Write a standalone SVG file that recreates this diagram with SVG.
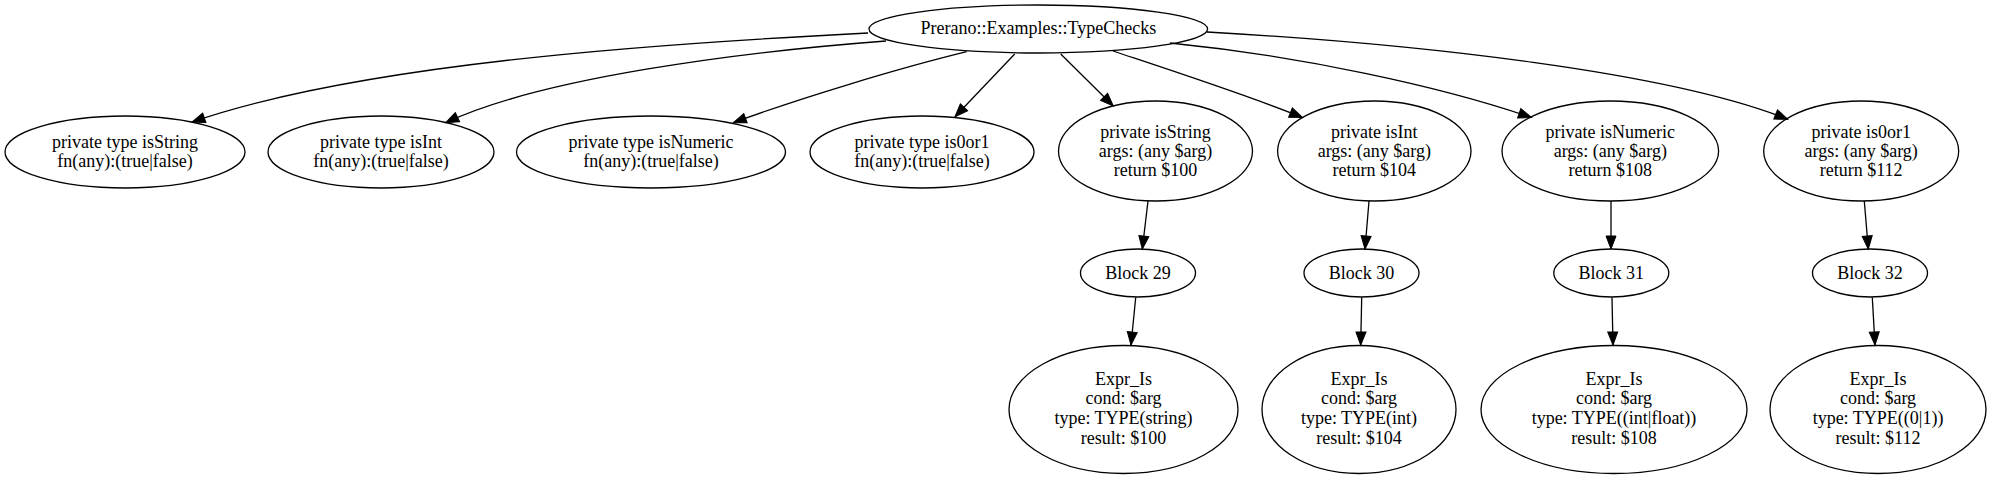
<svg xmlns="http://www.w3.org/2000/svg" width="1996" height="479" viewBox="0 0 1996 479">
<style>
.n ellipse{fill:none;stroke:#000;stroke-width:1.3}
.n text{font-family:"Liberation Serif","Times New Roman",serif;font-size:18px;fill:#000;text-anchor:middle}
.e path{fill:none;stroke:#000;stroke-width:1.3;marker-end:url(#arr)}
</style>
<defs>
<marker id="arr" markerUnits="userSpaceOnUse" viewBox="0 0 14 11" markerWidth="14" markerHeight="11" refX="13" refY="5.5" orient="auto" overflow="visible">
<path d="M0,0.5 L13,5.5 L0,10.5 Z" fill="#000" stroke="#000" stroke-width="1"/>
</marker>
</defs>
<rect width="1996" height="479" fill="#fff"/>
<g id="edges" class="e">
<path d="M868,33 C650,44 360,64 192,122"/>
<path d="M886,41 C740,52 540,78 445.7,122.7"/>
<path d="M966.7,51.7 C900,68 800,98 733.3,122.7"/>
<path d="M1014.7,54 L955,116.7"/>
<path d="M1060.7,54 L1113.3,106"/>
<path d="M1113,51 C1170,70 1250,96 1302.5,117.5"/>
<path d="M1170,43 C1300,56 1440,86 1531.5,117.5"/>
<path d="M1207,32 C1420,44 1670,72 1787.7,119.3"/>
<path d="M1148,201 L1142.3,249"/>
<path d="M1369,201 L1365,249"/>
<path d="M1611,201 L1611,249"/>
<path d="M1864.3,201 L1868.3,249"/>
<path d="M1135.7,297.5 L1131,345"/>
<path d="M1361.7,297.5 L1360.7,345"/>
<path d="M1612,297.5 L1613,345"/>
<path d="M1872.3,297.5 L1875,345"/>
</g>
<g id="root" class="n"><ellipse cx="1038.3" cy="29" rx="169.3" ry="24"/><text x="1038.3" y="34">Prerano::Examples::TypeChecks</text></g>
<g id="type_isString" class="n"><ellipse cx="125" cy="152" rx="120" ry="36"/><text x="125" y="148">private type isString</text><text x="125" y="167">fn(any):(true|false)</text></g>
<g id="type_isInt" class="n"><ellipse cx="381" cy="152" rx="113" ry="36"/><text x="381" y="148">private type isInt</text><text x="381" y="167">fn(any):(true|false)</text></g>
<g id="type_isNumeric" class="n"><ellipse cx="651" cy="152" rx="134.5" ry="36"/><text x="651" y="148">private type isNumeric</text><text x="651" y="167">fn(any):(true|false)</text></g>
<g id="type_is0or1" class="n"><ellipse cx="922" cy="152" rx="112" ry="36"/><text x="922" y="148">private type is0or1</text><text x="922" y="167">fn(any):(true|false)</text></g>
<g id="fn_isString" class="n"><ellipse cx="1155.5" cy="151" rx="97" ry="50"/><text x="1155.5" y="137.5">private isString</text><text x="1155.5" y="156.7">args: (any $arg)</text><text x="1155.5" y="176">return $100</text></g>
<g id="fn_isInt" class="n"><ellipse cx="1374.3" cy="151" rx="96.7" ry="50"/><text x="1374.3" y="137.5">private isInt</text><text x="1374.3" y="156.7">args: (any $arg)</text><text x="1374.3" y="176">return $104</text></g>
<g id="fn_isNumeric" class="n"><ellipse cx="1610.3" cy="151" rx="108.3" ry="50"/><text x="1610.3" y="137.5">private isNumeric</text><text x="1610.3" y="156.7">args: (any $arg)</text><text x="1610.3" y="176">return $108</text></g>
<g id="fn_is0or1" class="n"><ellipse cx="1861.2" cy="151" rx="97.5" ry="50"/><text x="1861.2" y="137.5">private is0or1</text><text x="1861.2" y="156.7">args: (any $arg)</text><text x="1861.2" y="176">return $112</text></g>
<g id="block29" class="n"><ellipse cx="1138" cy="273" rx="57.5" ry="24"/><text x="1138" y="278.5">Block 29</text></g>
<g id="block30" class="n"><ellipse cx="1361.5" cy="273" rx="57.5" ry="24"/><text x="1361.5" y="278.5">Block 30</text></g>
<g id="block31" class="n"><ellipse cx="1611.3" cy="273" rx="57.5" ry="24"/><text x="1611.3" y="278.5">Block 31</text></g>
<g id="block32" class="n"><ellipse cx="1870" cy="273" rx="57.5" ry="24"/><text x="1870" y="278.5">Block 32</text></g>
<g id="expr29" class="n"><ellipse cx="1123.5" cy="409.5" rx="114.5" ry="64"/><text x="1123.5" y="384.5">Expr_Is</text><text x="1123.5" y="404.2">cond: $arg</text><text x="1123.5" y="424">type: TYPE(string)</text><text x="1123.5" y="443.5">result: $100</text></g>
<g id="expr30" class="n"><ellipse cx="1359" cy="409.5" rx="97" ry="64"/><text x="1359" y="384.5">Expr_Is</text><text x="1359" y="404.2">cond: $arg</text><text x="1359" y="424">type: TYPE(int)</text><text x="1359" y="443.5">result: $104</text></g>
<g id="expr31" class="n"><ellipse cx="1614" cy="409.5" rx="133" ry="64"/><text x="1614" y="384.5">Expr_Is</text><text x="1614" y="404.2">cond: $arg</text><text x="1614" y="424">type: TYPE((int|float))</text><text x="1614" y="443.5">result: $108</text></g>
<g id="expr32" class="n"><ellipse cx="1878" cy="409.5" rx="108" ry="64"/><text x="1878" y="384.5">Expr_Is</text><text x="1878" y="404.2">cond: $arg</text><text x="1878" y="424">type: TYPE((0|1))</text><text x="1878" y="443.5">result: $112</text></g>
</svg>
